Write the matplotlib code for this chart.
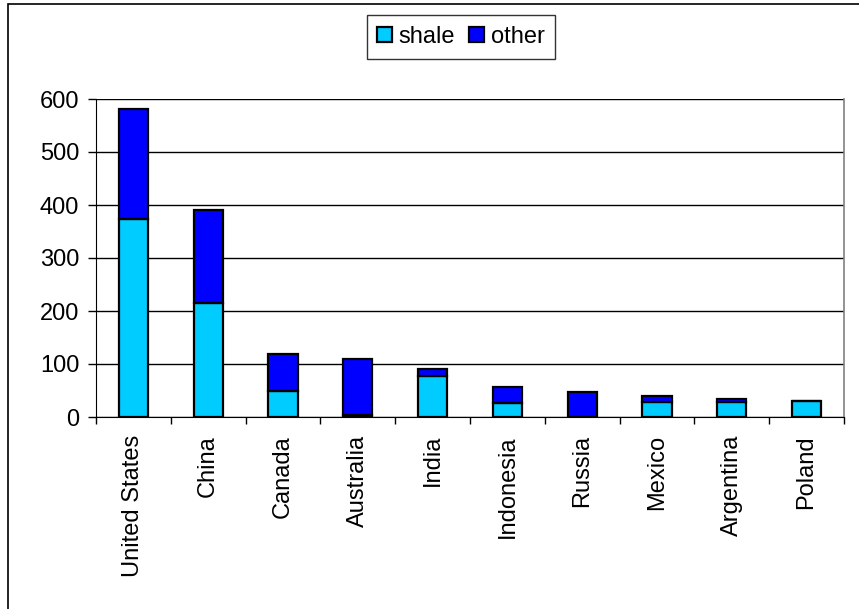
import matplotlib
matplotlib.use("Agg")
import matplotlib.pyplot as plt
from matplotlib.patches import Rectangle

categories = ["United States", "China", "Canada", "Australia", "India",
              "Indonesia", "Russia", "Mexico", "Argentina", "Poland"]
shale = [374, 216, 50, 4, 77, 26, 0, 28, 28, 30]
other = [208, 175, 69, 106, 14, 30, 48, 11, 6, 0]
yticks = [0, 100, 200, 300, 400, 500, 600]

plt.rcParams['font.family'] = ['Liberation Sans', 'DejaVu Sans']

W, H = 859, 609
fig = plt.figure(figsize=(W / 100, H / 100), dpi=100)
fig.patch.set_facecolor("white")

# outer frame (only left/top visible in reference)
fig.patches.append(Rectangle((8 / W, -0.1), 1.2, 1 - 4 / H + 0.1,
                             transform=fig.transFigure, fill=False,
                             edgecolor="black", linewidth=1.2, clip_on=False))

ax = fig.add_axes([96 / W, 1 - 417 / H, (844 - 96) / W, (417 - 99) / H])
x = list(range(len(categories)))
bw = 0.39
ax.bar(x, shale, width=bw, color="#00CCFF", edgecolor="black",
       linewidth=1.6, label="shale", zorder=3)
ax.bar(x, other, width=bw, bottom=shale, color="#0000FF", edgecolor="black",
       linewidth=1.6, label="other", zorder=3)

ax.set_xlim(-0.5, len(categories) - 0.5)
ax.set_ylim(0, 600)
ax.set_yticks(yticks)
ax.set_yticklabels([str(v) for v in yticks], fontsize=17)
ax.yaxis.grid(True, color="black", linewidth=1.0, zorder=0)
ax.set_axisbelow(True)

ax.set_xticks([i - 0.5 for i in range(len(categories) + 1)])
ax.set_xticklabels([])
ax.set_xticks(x, minor=True)
ax.set_xticklabels(categories, minor=True, rotation=90, fontsize=17, va="top")
ax.tick_params(axis="x", which="minor", length=0, pad=13)
ax.tick_params(axis="x", which="major", length=5, width=1.0, color="black", direction="out")
ax.tick_params(axis="y", length=6, width=1.0, pad=6, direction="out")

for s in ["top"]:
    ax.spines[s].set_visible(False)
ax.spines["right"].set_color("#808080")
ax.spines["right"].set_linewidth(1.2)
ax.spines["left"].set_color("black")
ax.spines["bottom"].set_color("black")

leg = fig.legend(loc="center", bbox_to_anchor=(461 / W, 1 - 37 / H), ncol=2,
                 fontsize=17, frameon=True, fancybox=False, shadow=False,
                 handlelength=0.6, handleheight=0.6, handletextpad=0.3,
                 columnspacing=0.6, borderpad=0.45, borderaxespad=0)
leg.get_frame().set_edgecolor("black")
leg.get_frame().set_linewidth(1.0)

fig.savefig("out.png", dpi=100)
